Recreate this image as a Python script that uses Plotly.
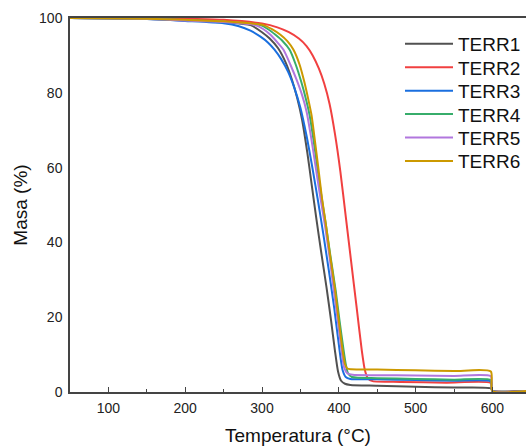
import plotly.graph_objects as go

# Temperature (°C) / mass (%)
t1 = [50, 100, 150, 200, 250, 285, 300, 310, 321, 331, 339, 346, 352, 359, 365, 371, 377, 384, 390, 395, 399, 403, 408, 415, 450, 500, 550, 598, 600, 645]
m1 = [100, 99.9, 99.7, 99.4, 98.8, 98.1, 96.2, 94.5, 91.9, 88, 83.5, 78.5, 73, 64, 55, 46, 37.5, 28, 19.0, 11.0, 5.5, 3, 2.2, 1.9, 1.7, 1.4, 1.2, 1.0, 0.3, 0.3]

t2 = [50, 150, 200, 250, 300, 320, 335, 348, 358, 366, 374, 381, 388, 395, 402, 409, 416, 423, 430, 434, 438, 444, 480, 540, 598, 600, 645]
m2 = [100, 99.9, 99.8, 99.5, 98.5, 97.5, 96.2, 94.5, 92.5, 90, 86.5, 82.5, 77, 69, 59, 47, 35, 23, 11, 5.8, 3.6, 2.9, 2.7, 2.5, 2.4, 0.3, 0.3]

t3 = [50, 150, 200, 250, 270, 285, 298, 308, 316, 325, 334, 342, 350, 358, 366, 373, 380, 387, 394, 401.5, 405, 409, 415, 450, 500, 550, 598, 600, 645]
m3 = [100, 99.7, 99.2, 98.6, 97.8, 96.6, 95.0, 93.4, 91.6, 89.0, 85.6, 81.4, 76.0, 68.5, 59.5, 51, 42, 32.5, 22.5, 10.3, 5.8, 4, 3.5, 3.4, 3.2, 3.0, 2.8, 0.3, 0.3]

t4 = [50, 150, 200, 250, 298, 308, 317.5, 327, 336, 344, 351, 357, 362, 367, 372, 378, 383, 389, 396, 401, 406, 409, 412, 417, 450, 500, 550, 598, 600, 645]
m4 = [100, 99.8, 99.4, 99.0, 98.1, 97, 95.5, 93.8, 91.5, 87.5, 83, 78.5, 74, 67.5, 60, 51.5, 45, 36.5, 27, 19, 11.5, 7.5, 5, 4, 3.7, 3.5, 3.3, 3.2, 0.3, 0.3]

t5 = [50, 150, 200, 250, 291, 302, 311, 320, 328, 337, 345, 352, 358, 364, 370, 376, 382, 388, 393, 399, 404, 407, 411, 418, 450, 500, 550, 598, 600, 645]
m5 = [100, 99.8, 99.3, 98.9, 98.1, 97, 95.5, 93.5, 91.5, 87.5, 83.5, 79.5, 75, 68, 60, 52, 44.5, 36, 28, 18.5, 10.3, 6.5, 5.0, 4.6, 4.5, 4.4, 4.3, 4.2, 0.3, 0.3]

t6 = [50, 150, 200, 250, 302, 313, 324, 333, 341, 349, 355, 360, 364.5, 369, 373, 378, 383, 389, 395, 400, 405, 408, 411, 416, 450, 500, 550, 598, 600, 645]
m6 = [100, 99.8, 99.5, 99.1, 98.1, 97, 95.5, 93.8, 91.5, 87.5, 83, 78.5, 74, 67, 60.5, 52, 45, 36, 27.5, 19, 11, 7.5, 6.3, 6.1, 6.0, 5.8, 5.6, 5.5, 0.3, 0.3]

names = ["TERR1", "TERR2", "TERR3", "TERR4", "TERR5", "TERR6"]
colors = ["#515151", "#F14040", "#1A6FDF", "#37AD6B", "#B177DE", "#CC9900"]
xs = [t1, t2, t3, t4, t5, t6]
ys = [m1, m2, m3, m4, m5, m6]

x_ticks = [100, 200, 300, 400, 500, 600]
x_minor = [150, 250, 350, 450, 550]
y_ticks = [0, 20, 40, 60, 80, 100]

legend_ids = ["legend", "legend2", "legend3", "legend4", "legend5", "legend6"]

fig = go.Figure()
for x, y, n, c, lg in zip(xs, ys, names, colors, legend_ids):
    fig.add_trace(go.Scatter(x=x, y=y, name=n, mode="lines", legend=lg,
                             line=dict(color=c, width=2, shape="spline", smoothing=0.6)))

font_family = "Liberation Sans, Arial, sans-serif"

# one single-entry legend per series, stacked with the reference's spacing
legend_layout = {}
for i, lg in enumerate(legend_ids):
    legend_layout[lg] = dict(x=1.0, y=0.9305 - i * 0.0626, xanchor="right", yanchor="middle",
                             font=dict(size=19, color="#111"), bgcolor="rgba(0,0,0,0)",
                             borderwidth=0, itemwidth=48)

fig.update_layout(
    width=526, height=446,
    margin=dict(l=70, r=0, t=18, b=54),
    paper_bgcolor="white", plot_bgcolor="white",
    font=dict(family=font_family, color="#222", size=14),
    showlegend=True,
    **legend_layout,
    xaxis=dict(range=[50, 643.75], tickvals=x_ticks, showgrid=False, zeroline=False,
               showline=True, linecolor="#444", linewidth=1.5, mirror=True,
               ticks="inside", ticklen=5, tickcolor="#444", tickwidth=1.2,
               minor=dict(tickvals=x_minor, ticks="inside", ticklen=3, tickcolor="#444"),
               automargin=False, ticklabelstandoff=2,
               title=dict(text="Temperatura (°C)", font=dict(size=19, color="#111"), standoff=15),
               tickfont=dict(size=14, color="#222")),
    yaxis=dict(range=[0, 100], tickvals=y_ticks, showgrid=False, zeroline=False,
               showline=True, linecolor="#444", linewidth=1.5,
               ticks="", ticklabelstandoff=3, automargin=False,
               title=dict(text="Masa (%)", font=dict(size=19, color="#111"), standoff=6),
               tickfont=dict(size=14, color="#222")),
)

fig.write_html("out.html", config={"displayModeBar": False},
               post_script="document.body.style.margin='0';document.body.style.overflow='hidden';")
